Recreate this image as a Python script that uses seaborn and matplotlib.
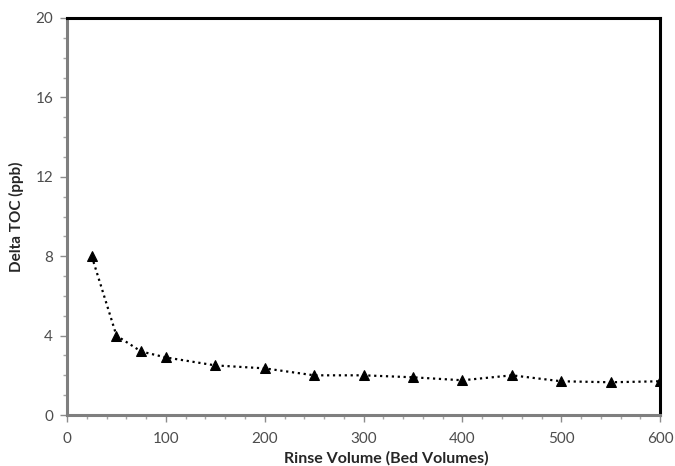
import pandas as pd
import seaborn as sns
import matplotlib.pyplot as plt
from matplotlib.ticker import MultipleLocator

# rinse volume (bed volumes) vs delta TOC (ppb)
rinse_volume = [25, 50, 75, 100, 150, 200, 250, 300, 350, 400, 450, 500, 550, 600]
delta_toc = [8.0, 4.0, 3.2, 2.9, 2.5, 2.35, 2.0, 2.0, 1.9, 1.75, 2.0, 1.7, 1.65, 1.7]

df = pd.DataFrame({"Rinse": rinse_volume, "TOC": delta_toc})

sns.set_style("white")
plt.rcParams["font.family"] = ["Lato", "DejaVu Sans"]

fig = plt.figure(figsize=(6.75, 4.66), dpi=100)
ax = fig.add_axes([0.0993, 0.1094, 0.8787, 0.852])

sns.lineplot(data=df, x="Rinse", y="TOC", ax=ax, color="black", linestyle=":",
             linewidth=1.6, marker="^", markersize=7, markeredgecolor="black")

ax.set_xlim(0, 600)
ax.set_ylim(0, 20)
ax.xaxis.set_major_locator(MultipleLocator(100))
ax.xaxis.set_minor_locator(MultipleLocator(20))
ax.yaxis.set_major_locator(MultipleLocator(4))
ax.yaxis.set_minor_locator(MultipleLocator(1))

for side in ["left", "bottom"]:
    ax.spines[side].set_color("#7f7f7f")
    ax.spines[side].set_linewidth(2.2)
for side in ["top", "right"]:
    ax.spines[side].set_color("black")
    ax.spines[side].set_linewidth(2.2)

ax.tick_params(which="major", direction="out", length=5, width=1, color="#8c8c8c",
               labelsize=11, labelcolor="#4d4d4d")
ax.tick_params(which="minor", direction="out", length=3, width=1, color="#a6a6a6")
ax.tick_params(axis="x", which="both", bottom=True, pad=7)
ax.tick_params(axis="y", which="both", left=True, pad=5)

ax.set_xlabel("Rinse Volume (Bed Volumes)", fontsize=11.5, fontweight="bold")
ax.xaxis.set_label_coords(0.539, -0.09)
ax.set_ylabel("Delta TOC (ppb)", fontsize=11, fontweight="bold", labelpad=8)

fig.savefig("out.png", dpi=100)
